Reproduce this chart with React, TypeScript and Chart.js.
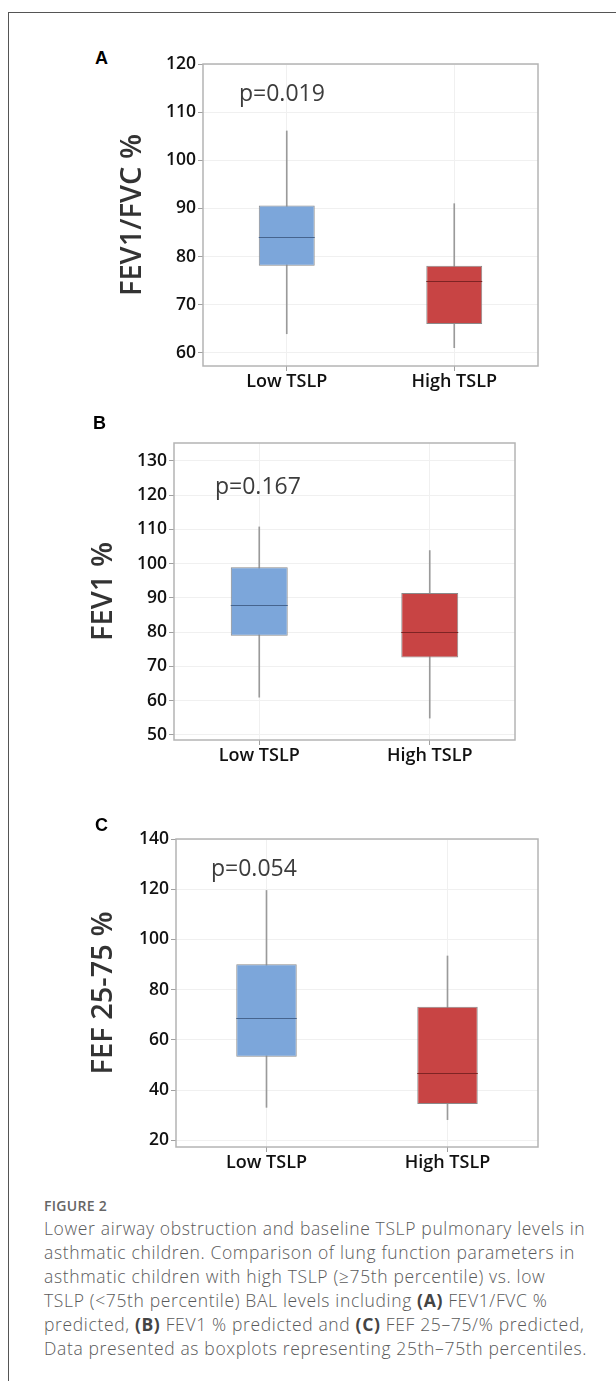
import React, { useEffect, useRef } from "react";
import { Chart, registerables } from "chart.js";

Chart.register(...registerables);

// ---------- data ----------
const categories = ["Low TSLP", "High TSLP"];

const panelLetters = ["A", "B", "C"];
const yTitles = ["FEV1/FVC %", "FEV1 %", "FEF 25-75 %"];
const pValues = ["p=0.019", "p=0.167", "p=0.054"];

// box stats per panel: [Low, High]
const minA = [64.0, 61.1];
const q1A = [78.1, 66.0];
const medA = [84.0, 75.0];
const q3A = [90.6, 78.1];
const maxA = [106.1, 91.0];

const minB = [61.0, 54.9];
const q1B = [78.9, 72.6];
const medB = [87.8, 80.0];
const q3B = [98.9, 91.4];
const maxB = [110.7, 103.8];

const minC = [33.1, 28.2];
const q1C = [53.3, 34.4];
const medC = [68.7, 46.9];
const q3C = [90.1, 73.2];
const maxC = [119.5, 93.4];

const yMinA = 57.3, yMaxA = 120, yStepA = 10;
const yMinB = 48.5, yMaxB = 135.2, yStepB = 10;
const yMinC = 17.3, yMaxC = 140, yStepC = 20;

const captionTitle = "FIGURE 2";

// ---------- styling / layout ----------
const boxFill = ["#7ca6da", "#c84444"];
const medianColor = ["#46648e", "#7e2424"];
const FONT = "'Open Sans', 'DejaVu Sans', sans-serif";

type PanelLayout = {
  left: number; top: number; width: number; height: number;
  yWidth: number; xHeight: number;
};

const layouts: PanelLayout[] = [
  { left: 111, top: 49, width: 437, height: 357, yWidth: 92, xHeight: 40 },
  { left: 82, top: 428, width: 443, height: 352, yWidth: 92, xHeight: 40 },
  { left: 82, top: 824, width: 466, height: 363, yWidth: 94, xHeight: 40 },
];

const stats = [
  { min: minA, q1: q1A, med: medA, q3: q3A, max: maxA, yMin: yMinA, yMax: yMaxA, step: yStepA },
  { min: minB, q1: q1B, med: medB, q3: q3B, max: maxB, yMin: yMinB, yMax: yMaxB, step: yStepB },
  { min: minC, q1: q1C, med: medC, q3: q3C, max: maxC, yMin: yMinC, yMax: yMaxC, step: yStepC },
];

const medianAndFramePlugin = {
  id: "medianAndFrame",
  afterDatasetsDraw(chart: any, _args: any, opts: any) {
    const { ctx, chartArea, scales } = chart;
    const meta = chart.getDatasetMeta(0);
    const y = scales.y;
    ctx.save();
    meta.data.forEach((bar: any, i: number) => {
      const py = Math.round(y.getPixelForValue(opts.medians[i])) + 0.5;
      ctx.strokeStyle = medianColor[i];
      ctx.lineWidth = 1.2;
      ctx.beginPath();
      ctx.moveTo(bar.x - bar.width / 2, py);
      ctx.lineTo(bar.x + bar.width / 2, py);
      ctx.stroke();
    });
    ctx.strokeStyle = "#b4b4b4";
    ctx.lineWidth = 1.5;
    ctx.strokeRect(chartArea.left, chartArea.top, chartArea.right - chartArea.left, chartArea.bottom - chartArea.top);
    ctx.restore();
  },
};

function BoxPanel({ idx }: { idx: number }) {
  const ref = useRef<HTMLCanvasElement | null>(null);
  const L = layouts[idx];
  const s = stats[idx];
  useEffect(() => {
    if (!ref.current) return;
    const boxData = categories.map((_, i) => [s.q1[i], s.q3[i]]);
    const whiskerData = categories.map((_, i) => [s.min[i], s.max[i]]);
    const chart = new Chart(ref.current, {
      type: "bar",
      data: {
        labels: categories,
        datasets: [
          {
            label: "box",
            data: boxData as any,
            backgroundColor: boxFill,
            borderColor: "#8a8a8a",
            borderWidth: 1,
            borderSkipped: false,
            grouped: false,
            categoryPercentage: 1,
            barPercentage: 0.334,
          } as any,
          {
            label: "whisker",
            data: whiskerData as any,
            backgroundColor: "#9a9a9a",
            borderWidth: 0,
            grouped: false,
            barThickness: 1,
          } as any,
        ],
      },
      options: {
        animation: false,
        responsive: false,
        maintainAspectRatio: false,
        events: [],
        layout: { padding: { top: 15, right: 10, left: 0, bottom: 0 } },
        plugins: {
          legend: { display: false },
          tooltip: { enabled: false },
          title: { display: false },
          medianAndFrame: { medians: s.med },
        } as any,
        scales: {
          x: {
            type: "category",
            offset: true,
            grid: {
              offset: false,
              color: "#f0f0f0",
              tickColor: "#a0a0a0",
              tickLength: 5,
              lineWidth: 1,
            },
            border: { display: false },
            ticks: {
              color: "#111",
              font: { family: FONT, size: 18, weight: 600 },
              padding: 0,
              maxRotation: 0,
            },
            afterFit(scale: any) { scale.height = L.xHeight; },
          },
          y: {
            type: "linear",
            min: s.yMin,
            max: s.yMax,
            grid: {
              color: "#f0f0f0",
              tickColor: "#a0a0a0",
              tickLength: 5,
              lineWidth: 1,
            },
            border: { display: false },
            ticks: {
              stepSize: s.step,
              includeBounds: false,
              color: "#111",
              font: { family: FONT, size: 17.5, weight: 600 },
              padding: 2,
            },
            title: {
              display: true,
              text: yTitles[idx],
              color: "#333",
              font: { family: FONT, size: 29, weight: 600 },
              padding: { top: 4, bottom: 4 },
            },
            afterFit(scale: any) { scale.width = L.yWidth; },
          },
        },
      },
      plugins: [medianAndFramePlugin as any],
    });
    return () => chart.destroy();
  }, [idx]);
  return (
    <canvas
      ref={ref}
      width={L.width}
      height={L.height}
      style={{ position: "absolute", left: L.left, top: L.top, width: L.width, height: L.height }}
    />
  );
}

const letterPos = [
  { left: 95, top: 47 },
  { left: 93, top: 412 },
  { left: 95, top: 814 },
];
const pPos = [
  { left: 239, top: 76 },
  { left: 215, top: 469 },
  { left: 211, top: 851 },
];

const boldStyle = { fontWeight: 700, color: "#444" };

export default function App() {
  return (
    <div style={{ position: "absolute", left: 0, top: 0, width: 616, height: 1381, overflow: "hidden", background: "#fff" }}>
      <div style={{ position: "absolute", left: 8, top: 12, width: 700, height: 1400, borderTop: "1px solid #555", borderLeft: "1px solid #555" }} />
      {[0, 1, 2].map((i) => (
        <React.Fragment key={i}>
          <BoxPanel idx={i} />
          <div style={{ position: "absolute", left: letterPos[i].left, top: letterPos[i].top, font: "bold 18px 'Liberation Sans', Arial, sans-serif", color: "#000", lineHeight: "22px" }}>
            {panelLetters[i]}
          </div>
          <div style={{ position: "absolute", left: pPos[i].left, top: pPos[i].top, fontFamily: FONT, fontSize: 23, fontWeight: 500, color: "#3c3c3c", lineHeight: "32px", whiteSpace: "nowrap" }}>
            {pValues[i]}
          </div>
        </React.Fragment>
      ))}
      <div style={{ position: "absolute", left: 44, top: 1197, fontFamily: FONT, fontSize: 14, fontWeight: 600, color: "#666", lineHeight: "18px", letterSpacing: 0.3 }}>
        {captionTitle}
      </div>
      <div style={{ position: "absolute", left: 44, top: 1216, fontFamily: FONT, fontSize: 17.5, fontWeight: 300, color: "#5a5a5a", lineHeight: "24px", letterSpacing: 0.65, whiteSpace: "nowrap" }}>
        Lower airway obstruction and baseline TSLP pulmonary levels in<br />
        asthmatic children. Comparison of lung function parameters in<br />
        asthmatic children with high TSLP (≥75th percentile) vs. low<br />
        TSLP (&lt;75th percentile) BAL levels including <b style={boldStyle}>(A)</b> FEV1/FVC %<br />
        predicted, <b style={boldStyle}>(B)</b> FEV1 % predicted and <b style={boldStyle}>(C)</b> FEF 25–75/% predicted,<br />
        Data presented as boxplots representing 25th–75th percentiles.
      </div>
    </div>
  );
}
